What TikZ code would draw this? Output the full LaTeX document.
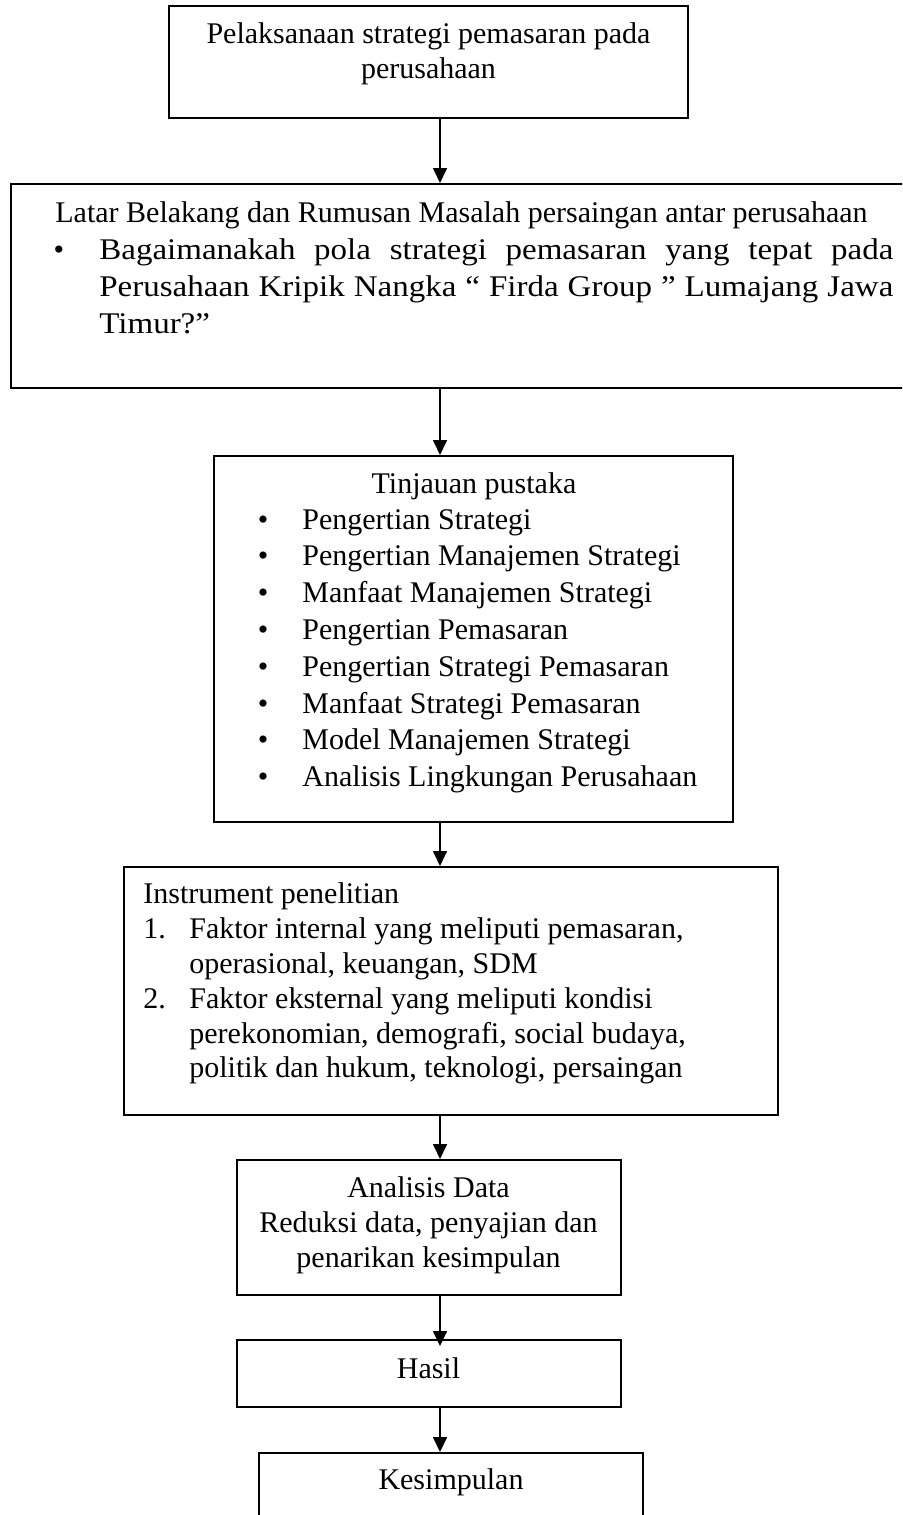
\documentclass[tikz,border=0pt]{standalone}
\usepackage{fontspec}
\setmainfont{Liberation Serif}
\newfontfamily\widefont[FakeStretch=1.1]{Liberation Serif}
\usetikzlibrary{arrows.meta,fit}
\begin{document}
\begin{tikzpicture}[x=0.5pt,y=-0.5pt,
  box/.style={draw, line width=1pt, inner sep=0pt},
  txt/.style={inner sep=0pt, font=\fontsize{15pt}{18pt}\selectfont},
  widetxt/.style={inner sep=0pt, font=\widefont\fontsize{15pt}{18pt}\selectfont},
  arr/.style={-{Triangle[length=7.5pt,width=7pt]}, line width=0.85pt}]
\useasboundingbox (0,0) rectangle (902,1515);
\clip (0,0) rectangle (902,1515);
% boxes
\node[box, fit={(169,6) (688,118)}] (b1) {};
\node[box, fit={(11,184) (912,388)}] (b2) {};
\node[box, fit={(214,456) (733,822)}] (b3) {};
\node[box, fit={(124,867) (778,1115)}] (b4) {};
\node[box, fit={(237,1160) (621,1295)}] (b5) {};
\node[box, fit={(237,1340) (621,1407)}] (b6) {};
\node[box, fit={(259,1453) (643,1570)}] (b7) {};
% box 1 text
\node[txt, anchor=base] (t1a) at (428.5,43) {Pelaksanaan strategi pemasaran pada};
\node[txt, anchor=base] (t1b) at (428.5,78) {perusahaan};
% box 2 text
\node[txt, anchor=base west] (t2a) at (55,222) {Latar Belakang dan Rumusan Masalah persaingan antar perusahaan};
\node[txt, anchor=base] (t2bul) at (59,259) {•};
\node[widetxt, anchor=base west] (t2b) at (99,259) {\makebox[397pt][s]{Bagaimanakah pola strategi pemasaran yang tepat pada}};
\node[widetxt, anchor=base west] (t2c) at (99,296) {\makebox[397pt][s]{Perusahaan Kripik Nangka “ Firda Group ” Lumajang Jawa}};
\node[widetxt, anchor=base west] (t2d) at (99,333) {Timur?”};
% box 3 text
\node[txt, anchor=base] (t3) at (474,493) {Tinjauan pustaka};
\foreach \i/\t [count=\k from 0] in {a/Pengertian Strategi, b/Pengertian Manajemen Strategi, c/Manfaat Manajemen Strategi, d/Pengertian Pemasaran, e/Pengertian Strategi Pemasaran, f/Manfaat Strategi Pemasaran, g/Model Manajemen Strategi, h/Analisis Lingkungan Perusahaan}{
  \node[txt, anchor=base] (t3bul\i) at (263,529+36.8*\k) {•};
  \node[txt, anchor=base west] (t3\i) at (302,529+36.8*\k) {\t};
}
% box 4 text
\node[txt, anchor=base west] (t4) at (143,903) {Instrument penelitian};
\node[txt, anchor=base west] (t4n1) at (143,938) {1.};
\node[txt, anchor=base west] (t4a) at (189,938) {Faktor internal yang meliputi pemasaran,};
\node[txt, anchor=base west] (t4b) at (189,973) {operasional, keuangan, SDM};
\node[txt, anchor=base west] (t4n2) at (143,1008) {2.};
\node[txt, anchor=base west] (t4c) at (189,1008) {Faktor eksternal yang meliputi kondisi};
\node[txt, anchor=base west] (t4d) at (189,1043) {perekonomian, demografi, social budaya,};
\node[txt, anchor=base west] (t4e) at (189,1077) {politik dan hukum, teknologi, persaingan};
% box 5 text
\node[txt, anchor=base] (t5a) at (428.5,1197) {Analisis Data};
\node[txt, anchor=base] (t5b) at (428.5,1232) {Reduksi data, penyajian dan};
\node[txt, anchor=base] (t5c) at (428.5,1267) {penarikan kesimpulan};
% box 6, 7 text
\node[txt, anchor=base] (t6) at (428.5,1378) {Hasil};
\node[txt, anchor=base] (t7) at (451,1489) {Kesimpulan};
% connectors
\coordinate (ax) at (440,0);
\draw[arr] (b1.south -| ax) -- (b2.north -| ax);
\draw[arr] (b2.south -| ax) -- (b3.north -| ax);
\draw[arr] (b3.south -| ax) -- (b4.north -| ax);
\draw[arr] (b4.south -| ax) -- (b5.north -| ax);
\draw[arr, shorten >=-3.5pt] (b5.south -| ax) -- (b6.north -| ax);
\draw[arr] (b6.south -| ax) -- (b7.north -| ax);
\end{tikzpicture}
\end{document}
